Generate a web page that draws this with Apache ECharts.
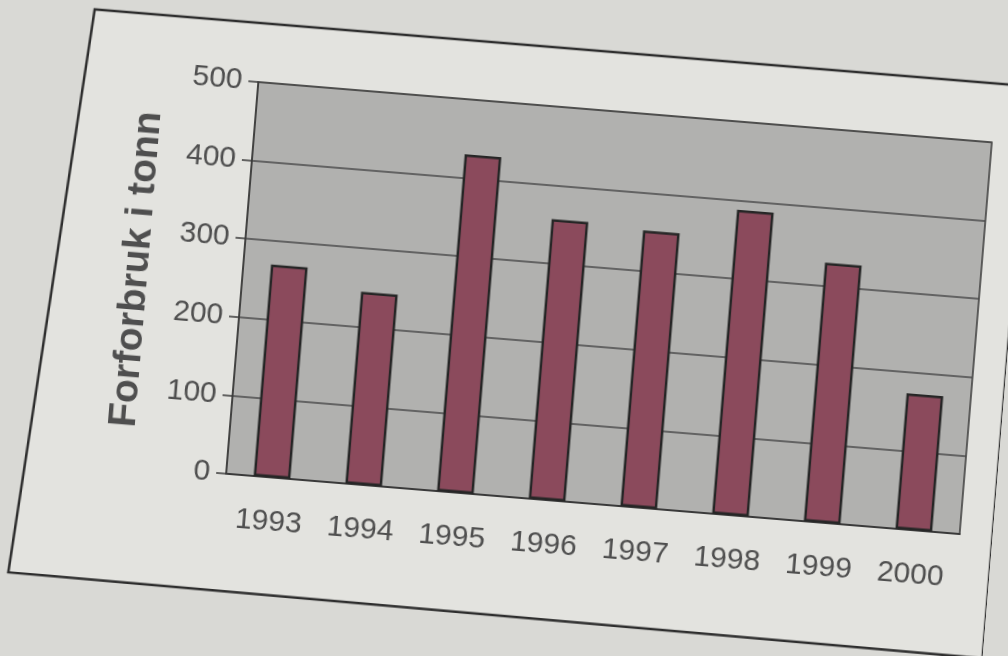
<!DOCTYPE html>
<html>
<head>
<meta charset="utf-8">
<script src="https://cdn.jsdelivr.net/npm/echarts@6/dist/echarts.min.js"></script>
<style>
  html, body { margin: 0; padding: 0; background: #d9d9d5; overflow: hidden; }
  /* the scanned page sits a little crooked, so the whole chart is turned */
  #chart {
    width: 1008px;
    height: 656px;
    transform: rotate(4.7deg);
    transform-origin: 504px 328px;
  }
</style>
</head>
<body>
<div id="chart"></div>
<script>
// data
const years = ['1993', '1994', '1995', '1996', '1997', '1998', '1999', '2000']
const forbruk = [270, 245, 430, 357, 352, 388, 330, 173]
const yTicks = [0, 100, 200, 300, 400, 500]

const textColor = '#4f4f4f'
const lineColor = '#3a3a3a'

const myChart = echarts.init(document.getElementById('chart'))

const option = {
  backgroundColor: 'transparent',
  animation: false,
  // paper frame around the chart
  graphic: [
    {
      type: 'polygon',
      z: -10,
      shape: { points: [[70, 44], [1008, 44], [1008, 618], [30, 612]] },
      style: { fill: '#e3e3df', stroke: '#2e2e2e', lineWidth: 2.5 }
    }
  ],
  grid: {
    left: 239,
    right: 33,
    top: 103,
    bottom: 160,
    show: true,
    backgroundColor: '#b1b1af',
    borderColor: lineColor,
    borderWidth: 1.5
  },
  xAxis: {
    type: 'category',
    data: years,
    axisLine: { show: true, lineStyle: { color: lineColor, width: 2 } },
    axisTick: { show: false },
    axisLabel: {
      color: textColor,
      fontFamily: 'Liberation Sans, Arial, sans-serif',
      fontSize: 30,
      margin: 30
    }
  },
  yAxis: {
    type: 'value',
    min: yTicks[0],
    max: yTicks[yTicks.length - 1],
    interval: 100,
    name: 'Forforbruk i tonn',
    nameLocation: 'middle',
    nameRotate: 90,
    nameGap: 86,
    nameTextStyle: {
      color: textColor,
      fontFamily: 'Liberation Sans, Arial, sans-serif',
      fontWeight: 'bold',
      fontSize: 39
    },
    axisLine: { show: true, lineStyle: { color: lineColor, width: 1.5 } },
    axisTick: { show: true, inside: false, length: 10, lineStyle: { color: lineColor, width: 1.5 } },
    splitLine: { show: true, lineStyle: { color: '#4a4a4a', width: 1.5 } },
    axisLabel: {
      color: textColor,
      fontFamily: 'Liberation Sans, Arial, sans-serif',
      fontSize: 30,
      margin: 16
    }
  },
  series: [
    {
      type: 'bar',
      data: forbruk,
      barWidth: '40%',
      itemStyle: {
        color: '#8b4a5c',
        borderColor: '#262626',
        borderWidth: 2.5
      }
    }
  ]
}

myChart.setOption(option)
</script>
</body>
</html>
